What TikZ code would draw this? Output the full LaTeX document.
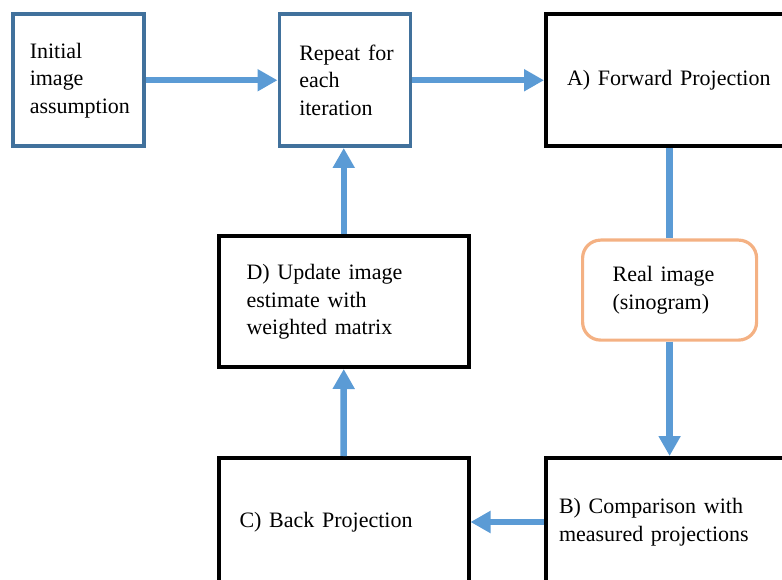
\documentclass[tikz,border=0pt]{standalone}
\usepackage{fontspec}
\setmainfont[WordSpace=1.4]{Liberation Serif}
\usetikzlibrary{arrows.meta}
\definecolor{arrowblue}{HTML}{5B9BD5}
\definecolor{boxblue}{HTML}{41719C}
\definecolor{boxorange}{HTML}{F4B183}
\begin{document}
\begin{tikzpicture}[x=1pt,y=-1pt,
  txt/.style={font=\fontsize{22}{27.5}\selectfont, align=flush left, anchor=north west, inner ysep=0pt, fill=white},
  bluebox/.style={txt, draw=boxblue, line width=3.5pt},
  blackbox/.style={txt, draw=black, line width=4pt},
  roundbox/.style={txt, draw=boxorange, line width=3.2pt, rounded corners=18pt},
  flow/.style={draw=arrowblue, line width=6.5pt, -{Triangle[length=20pt,width=21pt]}},
  flowline/.style={draw=arrowblue, line width=6.5pt}
]
\useasboundingbox (0,0) rectangle (782,580);

\node[bluebox, minimum width=131pt, minimum height=132pt, inner xsep=17pt, text width=97pt] (init) at (11,12.5) {Initial\\image\\assumption};
\node[bluebox, minimum width=131pt, minimum height=132pt, inner xsep=20pt, text width=91pt] (rep) at (277.5,12.5) {\mbox{Repeat for}\\each\\iteration};
\node[blackbox, minimum width=260pt, minimum height=131.5pt, inner xsep=21pt, text width=218pt] (fwd) at (544,12.5) {A) Forward Projection};
\node[roundbox, minimum width=174pt, minimum height=100pt, inner xsep=30pt, text width=114pt] (real) at (581,238.5) {Real image\\(sinogram)};
\node[blackbox, minimum width=250.5pt, minimum height=130.5pt, inner xsep=28pt, text width=194.5pt] (upd) at (216.5,234.5) {D) Update image\\estimate with\\weighted matrix};
\node[blackbox, minimum width=250pt, minimum height=128pt, inner xsep=21pt, text width=208pt] (back) at (216.5,456) {C) Back Projection};
\node[blackbox, minimum width=260pt, minimum height=128pt, inner xsep=13pt, text width=234pt] (cmp) at (544,456) {B) Comparison with\\measured projections};

\draw[flow] (init.east) -- (rep.west);
\draw[flow] (rep.east) -- (fwd.west);
\draw[flowline] (fwd.south -| real.center) -- (real.north);
\draw[flow] (real.south) -- (cmp.north -| real.center);
\draw[flow] (cmp.west) -- (back.east);
\draw[flow] (back.north) -- (upd.south);
\draw[flow] (upd.north) -- (upd.north |- rep.south);
\end{tikzpicture}
\end{document}
